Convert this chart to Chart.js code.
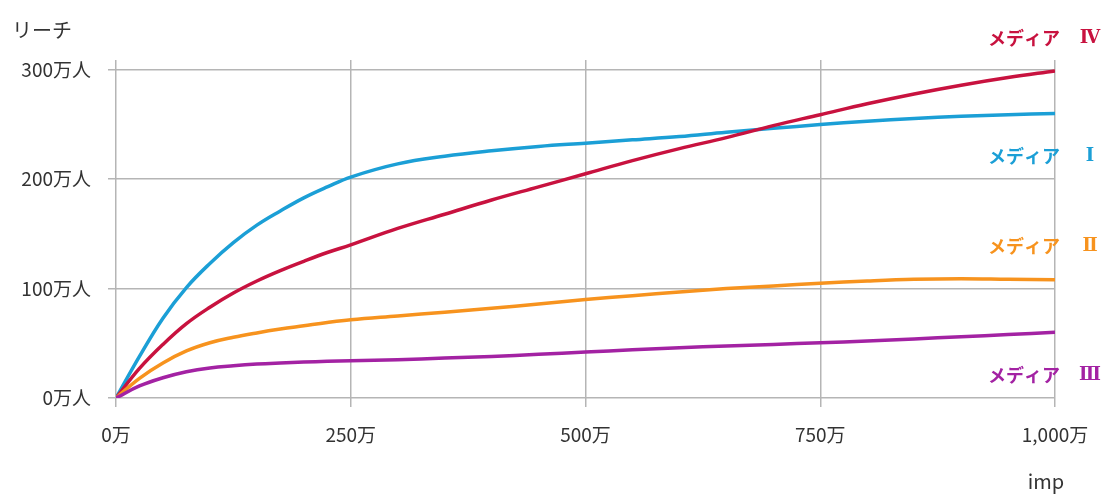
<!DOCTYPE html>
<html>
<head>
<meta charset="utf-8">
<script src="https://cdn.jsdelivr.net/npm/chart.js@4"></script>
<style>
  body { margin: 0; background: #fff; }
  #wrap { width: 1110px; height: 494px; }
</style>
</head>
<body>
<div id="wrap"><canvas id="myChart"></canvas></div>
<script>
// imp（万）
const imp = [0, 25, 50, 75, 100, 125, 150, 175, 200, 225, 250, 300, 350, 400, 450, 500, 550, 600, 650, 700, 750, 800, 850, 900, 950, 1000];
// リーチ（万人）
const media1 = [0, 38, 73, 101, 123, 142, 158, 171, 183, 193, 202, 214, 221, 226, 230, 233, 236, 239, 243, 246.5, 250, 253, 255.5, 257.5, 259, 260];
const media2 = [0, 18, 32, 43, 50.5, 55.5, 59.5, 63, 66, 69, 71.5, 75, 78.5, 82, 86, 90, 93.5, 97, 100, 102.5, 105, 107, 108.5, 109, 108.5, 108];
const media3 = [0, 11, 18.5, 24, 27.5, 29.5, 31, 32, 32.8, 33.5, 34, 35, 36.5, 38, 40, 42, 44, 46, 47.5, 49, 50.5, 52, 54, 56, 58, 60];
const media4 = [0, 27, 49, 68, 83, 96, 107, 116.5, 125, 133, 140, 155, 168, 181, 193, 205, 217, 228, 238, 249, 259, 269, 278, 286, 293, 299];
const xTicks = [0, 250, 500, 750, 1000];
const yTicks = [0, 100, 200, 300];

const colors = {
    m1: '#1b9fd6',
    m2: '#f7931e',
    m3: '#a322a3',
    m4: '#c8123f'
};

const pts = arr => arr.map((v, i) => ({ x: imp[i], y: v }));

const labelsPlugin = {
    id: 'labels',
    afterDraw(chart) {
        const ctx = chart.ctx;
        ctx.save();
        ctx.textBaseline = 'middle';
        ctx.fillStyle = '#333';
        ctx.font = '20px "Noto Sans CJK JP"';
        ctx.textAlign = 'left';
        ctx.fillText('リーチ', 12, 30);
        ctx.textAlign = 'center';
        ctx.fillText('imp', 1046, 481);

        const items = [
            ['メディア', 'Ⅳ', colors.m4, 38],
            ['メディア', 'Ⅰ', colors.m1, 156],
            ['メディア', 'Ⅱ', colors.m2, 246],
            ['メディア', 'Ⅲ', colors.m3, 375]
        ];
        items.forEach(([t, n, c, y]) => {
            ctx.fillStyle = c;
            ctx.textAlign = 'right';
            ctx.font = 'bold 18px "Noto Sans CJK JP"';
            ctx.fillText(t, 1060, y);
            ctx.textAlign = 'center';
            ctx.font = 'bold 18px "DejaVu Serif"';
            ctx.fillText(n, 1090, y);
        });
        ctx.restore();
    }
};

const ds = (label, data, color) => ({
    label: label,
    data: pts(data),
    borderColor: color,
    borderWidth: 3.5,
    pointRadius: 0,
    fill: false,
    tension: 0.4
});

new Chart(document.getElementById('myChart'), {
    type: 'line',
    data: {
        datasets: [
            ds('メディア Ⅲ', media3, colors.m3),
            ds('メディア Ⅱ', media2, colors.m2),
            ds('メディア Ⅳ', media4, colors.m4),
            ds('メディア Ⅰ', media1, colors.m1)
        ]
    },
    options: {
        responsive: true,
        maintainAspectRatio: false,
        animation: false,
        layout: { padding: { top: 60, right: 55, left: 0, bottom: 0 } },
        plugins: {
            legend: { display: false },
            tooltip: { enabled: false }
        },
        scales: {
            x: {
                type: 'linear',
                min: 0,
                max: 1000,
                afterBuildTicks: s => { s.ticks = xTicks.map(v => ({ value: v })); },
                afterFit: s => { s.height = 96; },
                border: { display: false },
                grid: { color: '#b5b5b5', lineWidth: 1.5, tickLength: 9 },
                ticks: {
                    padding: 16,
                    color: '#333',
                    font: { family: '"Noto Sans CJK JP"', size: 19 },
                    maxRotation: 0,
                    callback: v => v.toLocaleString('en-US') + '万'
                }
            },
            y: {
                min: 0,
                max: 309,
                afterBuildTicks: s => { s.ticks = yTicks.map(v => ({ value: v })); },
                afterFit: s => { s.width = 116; },
                border: { display: false },
                grid: { color: '#b5b5b5', lineWidth: 1.5, tickLength: 8 },
                ticks: {
                    padding: 17,
                    color: '#333',
                    font: { family: '"Noto Sans CJK JP"', size: 19 },
                    callback: v => v + '万人'
                }
            }
        }
    },
    plugins: [labelsPlugin]
});
</script>
</body>
</html>
